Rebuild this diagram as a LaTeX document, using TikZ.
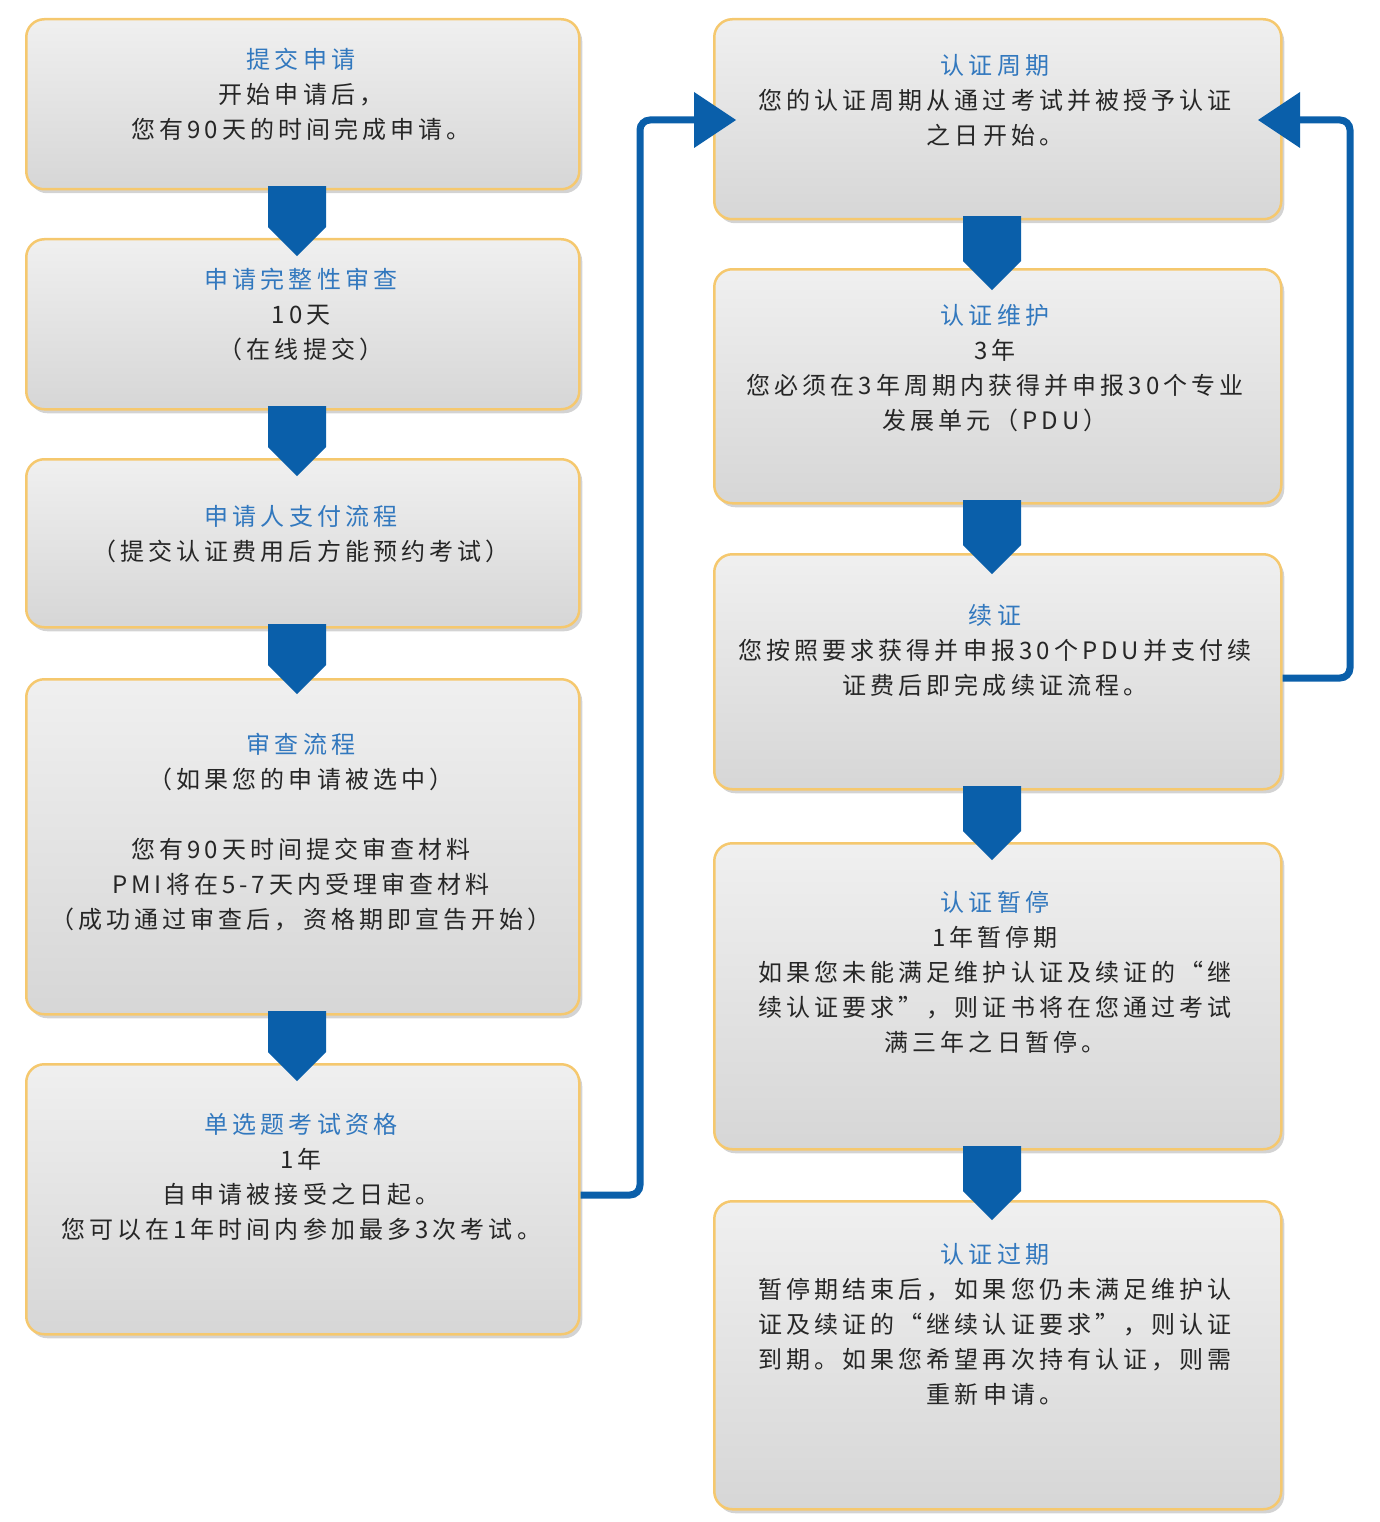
\documentclass[tikz,border=0pt]{standalone}
\usepackage{fontspec}
\newfontfamily\cjk[LetterSpace=17]{Noto Sans CJK SC}
\usetikzlibrary{shapes.arrows,shadows}
\definecolor{tblue}{RGB}{50,120,190}
\definecolor{ablue}{RGB}{10,95,170}
\definecolor{bord}{RGB}{245,200,110}
\begin{document}
\begin{tikzpicture}[x=1pt,y=-1pt,
 box/.style={draw=bord,line width=2.5pt,rounded corners=18pt,top color=gray!12,bottom color=gray!32,
   drop shadow={shadow xshift=3pt,shadow yshift=-4pt,opacity=0.35},anchor=north west,inner sep=0pt},
 txt/.style={align=center,font=\cjk\fontsize{24}{35}\selectfont,text=black!85},
 flow/.style={single arrow,draw=none,fill=ablue,minimum width=58pt,single arrow head extend=0pt,
   single arrow head indent=0pt,shape border rotate=270,inner sep=0pt,minimum height=70pt,anchor=north},
 link/.style={draw=ablue,line width=7pt,rounded corners=10pt}]
\useasboundingbox (0,0) rectangle (1379,1522);
\newcommand{\bx}[5]{\node[box,minimum width=#3,minimum height=#4] (#1) at #2 {};}
\bx{l1}{(25,18)}{553pt}{170pt}{}
\bx{l2}{(25,238)}{553pt}{170pt}{}
\bx{l3}{(25,458)}{553pt}{168pt}{}
\bx{l4}{(25,678)}{553pt}{335pt}{}
\bx{l5}{(25,1063)}{553pt}{270pt}{}
\bx{r1}{(713,18)}{567pt}{200pt}{}
\bx{r2}{(713,268)}{567pt}{234pt}{}
\bx{r3}{(713,553)}{567pt}{235pt}{}
\bx{r4}{(713,842)}{567pt}{306pt}{}
\bx{r5}{(713,1200)}{567pt}{308pt}{}
% flow arrows
\foreach \a/\y in {l1/186,l2/406,l3/624,l4/1011}{\node[flow,minimum height=70pt] at (297,\y) {};}
\foreach \y in {216,500,786,1146}{\node[flow,minimum height=74pt] at (992,\y) {};}
% texts
\node[txt,anchor=north] at (301,45) {\textcolor{tblue}{提交申请}\\开始申请后，\\您有90天的时间完成申请。};
\node[txt,anchor=north] at (301,265) {\textcolor{tblue}{申请完整性审查}\\10天\\（在线提交）};
\node[txt,anchor=north] at (301,502) {\textcolor{tblue}{申请人支付流程}\\（提交认证费用后方能预约考试）};
\node[txt,anchor=north] at (301,730) {\textcolor{tblue}{审查流程}\\（如果您的申请被选中）\\[35pt]您有90天时间提交审查材料\\PMI将在5-7天内受理审查材料\\（成功通过审查后，资格期即宣告开始）};
\node[txt,anchor=north] at (301,1110) {\textcolor{tblue}{单选题考试资格}\\1年\\自申请被接受之日起。\\您可以在1年时间内参加最多3次考试。};
\node[txt,anchor=north] at (995,51) {\textcolor{tblue}{认证周期}\\您的认证周期从通过考试并被授予认证\\之日开始。};
\node[txt,anchor=north] at (995,301) {\textcolor{tblue}{认证维护}\\3年\\您必须在3年周期内获得并申报30个专业\\发展单元（PDU）};
\node[txt,anchor=north] at (995,601) {\textcolor{tblue}{续证}\\您按照要求获得并申报30个PDU并支付续\\证费后即完成续证流程。};
\node[txt,anchor=north] at (995,888) {\textcolor{tblue}{认证暂停}\\1年暂停期\\如果您未能满足维护认证及续证的“继\\续认证要求”，则证书将在您通过考试\\满三年之日暂停。};
\node[txt,anchor=north] at (995,1240) {\textcolor{tblue}{认证过期}\\暂停期结束后，如果您仍未满足维护认\\证及续证的“继续认证要求”，则认证\\到期。如果您希望再次持有认证，则需\\重新申请。};
% links
\coordinate (a1) at (700,120);
\draw[link] (l5.east|-0,1195) -- (640,1195) -- (640,120) -- (a1);
\fill[ablue] (694,92) -- (736,120) -- (694,148) -- cycle;
\coordinate (a2) at (1295,120);
\draw[link] (r3.east|-0,678) -- (1350,678) -- (1350,120) -- (a2);
\fill[ablue] (1300,92) -- (1258,120) -- (1300,148) -- cycle;
\end{tikzpicture}
\end{document}
